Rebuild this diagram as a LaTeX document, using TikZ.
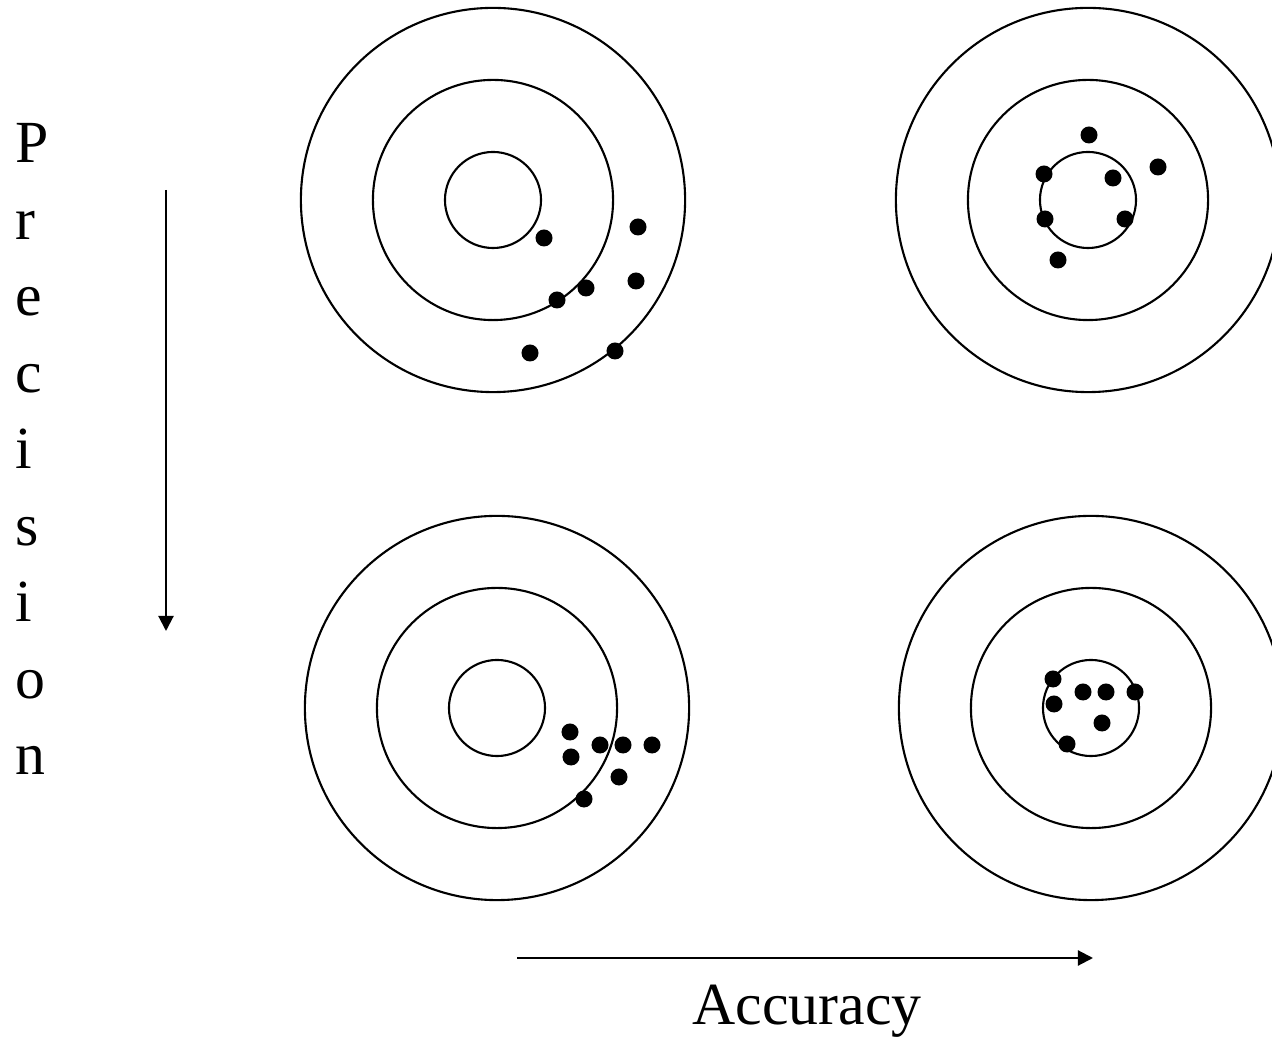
\documentclass[tikz,border=0pt]{standalone}
\usepackage{fontspec}
\setmainfont{Liberation Serif}
\usetikzlibrary{arrows.meta}

\begin{document}
\begin{tikzpicture}[x=0.01cm,y=-0.01cm,
  ring/.style={line width=0.6pt},
  shot/.style={fill=black},
  axis/.style={line width=0.6pt,-{Triangle[length=4.3pt,width=4.3pt]}},
  lbl/.style={inner sep=0pt,font=\fontsize{17}{20}\selectfont}]
\clip (0,0) rectangle (1272,1037);
\useasboundingbox (0,0) rectangle (1272,1037);
% target centres
\coordinate (tl) at (493,200);
\coordinate (tr) at (1088,200);
\coordinate (bl) at (497,708);
\coordinate (br) at (1091,708);
% rings
\foreach \t in {tl,tr,bl,br}
  \foreach \r in {1.92cm,1.2cm,0.48cm}
    \draw[ring] (\t) circle[radius=\r];
% neither precise nor accurate
\foreach \p in {(544,238),(638,227),(586,288),(557,300),(636,281),(530,353),(615,351)}
  \fill[shot] \p circle[radius=0.085cm];
% accurate, not precise
\foreach \p in {(1089,135),(1044,174),(1113,178),(1158,167),(1045,219),(1125,219),(1058,260)}
  \fill[shot] \p circle[radius=0.085cm];
% precise, not accurate
\foreach \p in {(570,732),(571,757),(600,745),(623,745),(652,745),(619,777),(584,799)}
  \fill[shot] \p circle[radius=0.085cm];
% precise and accurate
\foreach \p in {(1053,679),(1054,704),(1083,692),(1106,692),(1135,692),(1102,723),(1067,744)}
  \fill[shot] \p circle[radius=0.085cm];
% axes
\coordinate (ptop) at (166,190);
\coordinate (pbot) at (166,631);
\draw[axis] (ptop) -- (pbot);
\coordinate (aleft) at (517,958);
\coordinate (aright) at (1093,958);
\draw[axis] (aleft) -- (aright);
\node[lbl,anchor=base] (acc) at (807,1025) {Accuracy};
\foreach \c [count=\i from 0] in {P,r,e,c,i,s,i,o,n}
  \node[lbl,anchor=base west] (prec\i) at (15,163+76.5*\i) {\c};
\end{tikzpicture}
\end{document}
